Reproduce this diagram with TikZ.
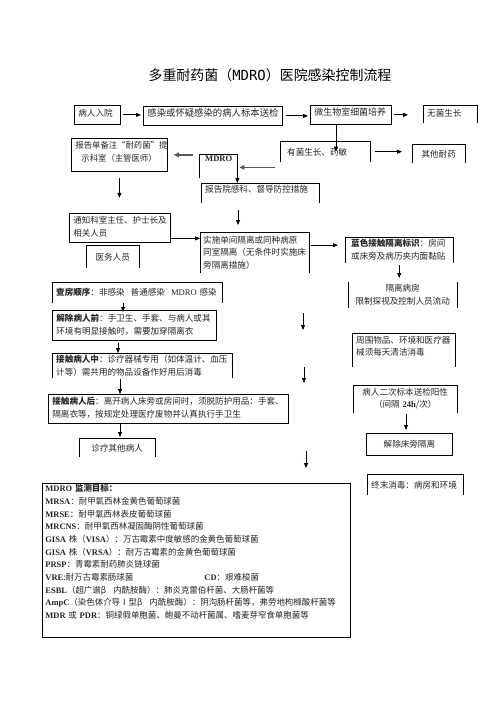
\documentclass[tikz,border=0pt]{standalone}
\usepackage{fontspec}
\setmainfont{Noto Sans CJK SC}
\newfontfamily\lat{Liberation Serif}
\newfontfamily\tmono{DejaVu Sans Mono}
\usetikzlibrary{arrows.meta}
\newcommand\flowbox[8]{%
  \pgfmathsetmacro\fbtw{#4-8}\pgfmathsetmacro\fbtd{#5-#6}%
  \node[bx,text width=\fbtw bp,text height=#6bp,text depth=\fbtd bp,#7] (#1) at (#2,#3) {#8};}
\newcommand\openbot[1]{\draw[ln] (#1.south west) -- (#1.north west) -- (#1.north east) -- (#1.south east);}
\tikzset{
  bx/.style={anchor=north west,inner xsep=4bp,inner ysep=0pt,align=left,
    font=\fontsize{8.6}{12.5}\selectfont,text=black!85},
  closed/.style={draw=black,line width=0.8bp},
  ln/.style={draw=black,line width=0.8bp},
  arr/.style={draw=black,line width=0.8bp,-{Triangle[length=5bp,width=4bp]}},
  garr/.style={draw=black!65,line width=1.5bp,-{Triangle[length=5bp,width=4.5bp]}},
  fs/.style={font=\fontsize{#1}{12.5}\selectfont}
}
\begin{document}
\begin{tikzpicture}[x=1bp,y=-1bp]
\fill[white] (0,0) rectangle (496,702);
\useasboundingbox (0,0) rectangle (496,702);

\node[font=\fontsize{14}{16}\selectfont] (title) at (270,75) {多重耐药菌（{\tmono MDRO}）医院感染控制流程};

% row 1
\flowbox{b1}{74}{105}{46}{19}{11.2}{closed}{病人入院}
\flowbox{b2}{143}{106}{139}{19}{10.5}{closed,fs=9.4}{感染或怀疑感染的病人标本送检}
\flowbox{b3}{310}{105}{81}{19}{10.5}{closed,fs=9.0}{微生物室细菌培养}
\flowbox{b4}{423}{105}{54}{18}{11.2}{}{无菌生长}
\openbot{b4}

% row 2
\flowbox{b5}{71}{138}{96}{33}{10.2}{closed,fs=8.4}{报告单备注“耐药菌”提\\\hspace*{6bp}示科室（主管医师）}
\flowbox{b6}{199}{154}{38}{24}{7.5}{}{\hspace*{2bp}{\lat\bfseries MDRO}}
\openbot{b6}
\flowbox{b7}{280}{141}{90}{21}{14.2}{}{\hspace*{3bp}有菌生长、药敏}
\openbot{b7}
\flowbox{b8}{412}{144}{53}{19}{13.2}{align=center}{其他耐药}
\openbot{b8}
\flowbox{b9}{201}{183}{118}{20}{9.5}{}{报告院感科、督导防控措施}
\openbot{b9}

% row 3
\flowbox{b10}{69}{213}{101}{29}{10.2}{closed,fs=8.5}{通知科室主任、护士长及\\相关人员}
\flowbox{b11}{86}{245}{53}{23}{15.2}{align=center}{医务人员}
\openbot{b11}
\flowbox{b12}{200}{232}{111}{41}{11.2}{inner xsep=3bp}{实施单间隔离或同种病原\\同室隔离（无条件时实施床\\旁隔离措施）}
\openbot{b12}
\flowbox{b13}{345}{237}{108}{26}{9.5}{}{\hspace*{2bp}{\bfseries 蓝色接触隔离标识}：房间\\\hspace*{2bp}或床旁及病历夹内面黏贴}
\openbot{b13}
\flowbox{b14}{348}{282}{109}{26}{9.5}{align=center}{隔离病房\\限制探视及控制人员流动}
\draw[ln] (b14.north west) -- (b14.south west);
\draw[ln] (b14.north east) -- (b14.south east);

% left column
\flowbox{b15}{52}{282}{170}{21}{13.2}{}{{\bfseries 查房顺序}：非感染\hspace{6bp}普通感染\hspace{6bp}{\lat MDRO} 感染}
\openbot{b15}
\flowbox{b16}{52}{310}{164}{30}{11.2}{closed}{{\bfseries 解除病人前}：手卫生、手套、与病人或其\\环境有明显接触时，需要加穿隔离衣}
\flowbox{b17}{352}{333}{103}{34}{10.2}{}{周围物品、环境和医疗器\\械须每天清洁消毒}
\openbot{b17}
\flowbox{b18}{52}{353}{180}{25}{9.5}{}{{\bfseries 接触病人中}：诊疗器械专用（如体温计、血压\\计等）需共用的物品设备作好用后消毒}
\openbot{b18}
\flowbox{b19}{48}{394}{240}{29}{10.2}{closed}{{\bfseries 接触病人后}：离开病人床旁或房间时，须脱防护用品：手套、\\隔离衣等，按规定处理医疗废物并认真执行手卫生}
\flowbox{b20}{353}{385}{104}{28}{10.2}{align=center}{病人二次标本送检阳性\\（间隔 {\lat\bfseries 24h}/次）}
\openbot{b20}
\flowbox{b21}{366}{433}{86}{22}{14.2}{closed,align=center}{解除床旁隔离}
\flowbox{b22}{79}{438}{76}{19}{13.2}{align=center}{诊疗其他病人}
\openbot{b22}
\flowbox{b23}{367}{474}{96}{21}{14.2}{}{终末消毒：病房和环境}
\openbot{b23}

% monitoring list
\flowbox{b24}{42}{483}{310}{154}{8.5}{closed,inner xsep=3bp,font=\fontsize{8.5}{12.7}\selectfont}{%
{\lat\bfseries MDRO} {\bfseries 监测目标：}\\
{\lat\bfseries MRSA}：耐甲氧西林金黄色葡萄球菌\\
{\lat\bfseries MRSE}：耐甲氧西林表皮葡萄球菌\\
{\lat\bfseries MRCNS}：耐甲氧西林凝固酶阴性葡萄球菌\\
{\lat\bfseries GISA} 株（{\lat\bfseries VISA}）：万古霉素中度敏感的金黄色葡萄球菌\\
{\lat\bfseries GISA} 株（{\lat\bfseries VRSA}）：耐万古霉素的金黄色葡萄球菌\\
{\lat\bfseries PRSP}：青霉素耐药肺炎链球菌\\
\makebox[159bp][l]{{\lat\bfseries VRE}:耐万古霉素肠球菌}{\lat\bfseries CD}：艰难梭菌\\
{\lat\bfseries ESBL}（超广谱β\hspace{7bp}内酰胺酶）：肺炎克雷伯杆菌、大肠杆菌等\\
{\lat\bfseries AmpC}（染色体介导Ⅰ型β\hspace{7bp}内酰胺酶）：阴沟肠杆菌等，弗劳地枸橼酸杆菌等\\
{\lat\bfseries MDR} 或 {\lat\bfseries PDR}：铜绿假单胞菌、鲍曼不动杆菌属、嗜麦芽窄食单胞菌等}

% floating arrow ends
\coordinate (m1s) at (303,313); \coordinate (m1e) at (303,330);
\coordinate (m2s) at (304,367); \coordinate (m2e) at (304,383);
\coordinate (m3s) at (306,451); \coordinate (m3e) at (306,468);

% connectors
\draw[arr,shorten <=2bp,shorten >=2bp] (b1.east) -- (b1.east -| b2.west);
\draw[arr,shorten <=3bp,shorten >=2bp] (b2.east) -- (b2.east -| b3.west);
\draw[arr,shorten <=2bp,shorten >=15bp] (b3.east) -- (b3.east -| b4.west);
\draw[arr] ([xshift=-15bp]b3.south) -- ([xshift=-15bp]b3.south |- b7.center);
\draw[arr,shorten <=5bp,shorten >=10bp] (b7.east) -- (b7.east -| b8.west);
\draw[garr,shorten <=5bp,shorten >=2bp] ([yshift=-5bp]b7.south west) -- ([yshift=-5bp]b7.south west -| b6.east);
\draw[garr,shorten <=6bp,shorten >=6bp] (b6.west |- b5.east) -- (b5.east);
\draw[arr] (b6.east) -- (b6.east |- b9.north);
\draw[arr,shorten <=6bp] (b5.south) -- ++(0,26);
\draw[arr,shorten <=7bp,shorten >=7bp] ([xshift=37bp]b9.south west) -- ([xshift=37bp]b9.south west |- b12.north);
\draw[arr] ([yshift=-10.5bp]b10.east) -- ([yshift=-10.5bp]b10.east -| b12.west);
\draw[arr,shorten <=2bp,shorten >=7bp] ([yshift=7.5bp]b12.east) -- ([yshift=7.5bp]b12.east -| b13.west);
\draw[arr,shorten <=2bp,shorten >=4bp] (b13.south) -- (b13.south |- b14.north);
\draw[arr,shorten >=-2bp] ([xshift=71bp]b15.south west) -- ([xshift=71bp]b15.south west |- b16.north);
\draw[arr] (m1s) -- (m1e);
\draw[arr,shorten <=2bp] ([xshift=66bp]b16.south west) -- ([xshift=66bp]b16.south west |- b18.north);
\draw[arr] (m2s) -- (m2e);
\draw[arr,shorten <=1bp] ([xshift=68bp]b18.south west) -- ([xshift=68bp]b18.south west |- b19.north);
\draw[arr,shorten <=1bp,shorten >=3bp] ([xshift=53bp]b20.south west) -- ([xshift=53bp]b20.south west |- b21.north);
\draw[arr,shorten >=1bp] ([xshift=72bp]b19.south west) -- ([xshift=72bp]b19.south west |- b22.north);
\draw[arr] (m3s) -- (m3e);
\end{tikzpicture}
\end{document}
